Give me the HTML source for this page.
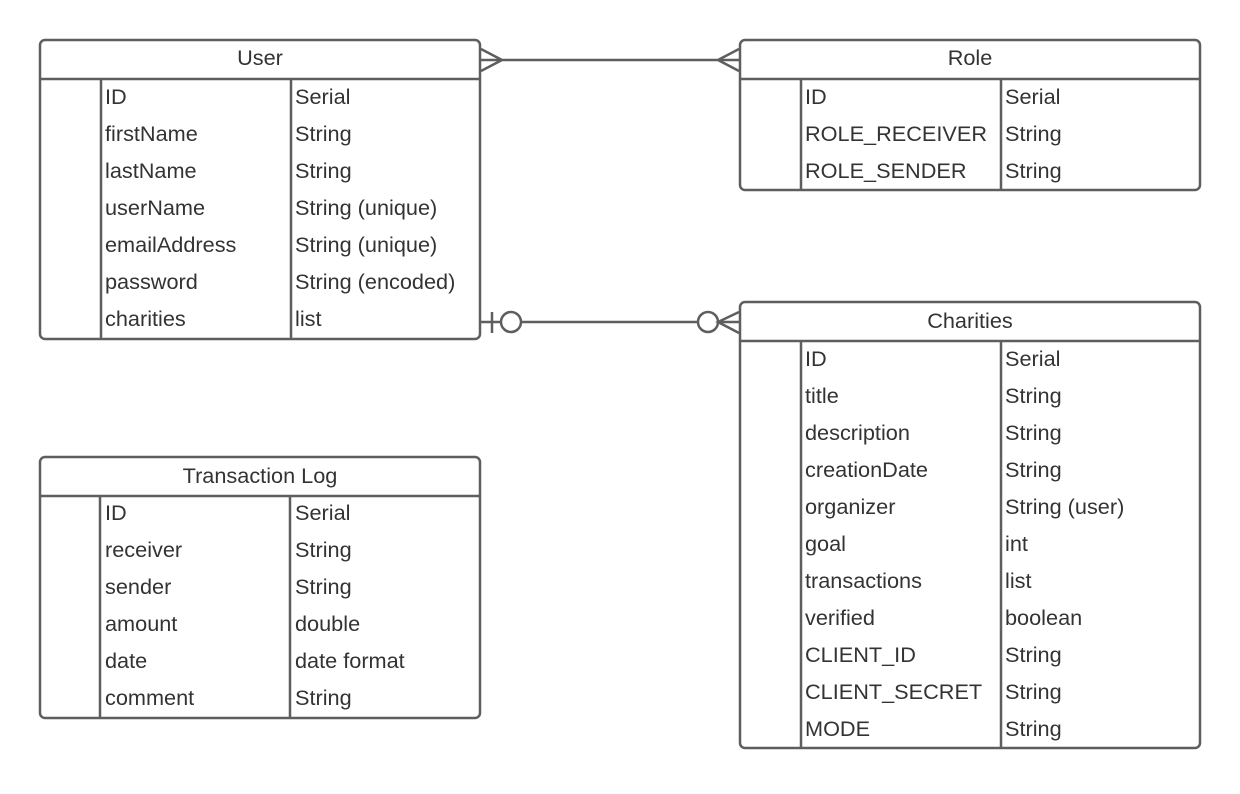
<!DOCTYPE html>
<html><head><meta charset="utf-8"><style>
html,body{margin:0;padding:0;background:#fff;}
svg text{font-family:"Liberation Sans",Arial,sans-serif;font-size:21.7px;fill:#333;}
</style></head><body>
<svg width="1240" height="789" viewBox="0 0 1240 789" xmlns="http://www.w3.org/2000/svg">
<g fill="none" stroke="#5e5e5e" stroke-width="2.5">
<rect x="40" y="40" width="440" height="299" rx="5"/>
<line x1="40" y1="79" x2="480" y2="79"/>
<line x1="101" y1="79" x2="101" y2="339"/>
<line x1="291" y1="79" x2="291" y2="339"/>
<rect x="740" y="40" width="460" height="150" rx="5"/>
<line x1="740" y1="79" x2="1200" y2="79"/>
<line x1="801" y1="79" x2="801" y2="190"/>
<line x1="1001" y1="79" x2="1001" y2="190"/>
<rect x="740" y="302" width="460" height="446" rx="5"/>
<line x1="740" y1="341" x2="1200" y2="341"/>
<line x1="801" y1="341" x2="801" y2="748"/>
<line x1="1001" y1="341" x2="1001" y2="748"/>
<rect x="40" y="457" width="440" height="261" rx="5"/>
<line x1="40" y1="496" x2="480" y2="496"/>
<line x1="100" y1="496" x2="100" y2="718"/>
<line x1="290" y1="496" x2="290" y2="718"/>
<line x1="481" y1="60" x2="739" y2="60"/>
<polyline points="481,49 502,60 481,71"/>
<polyline points="739,49 718,60 739,71"/>
<line x1="481" y1="322" x2="501" y2="322"/>
<line x1="492" y1="312" x2="492" y2="333"/>
<circle cx="511" cy="322" r="10"/>
<line x1="521" y1="322" x2="698" y2="322"/>
<circle cx="708" cy="322" r="10"/>
<polyline points="739,312 718,322 739,333"/>
<line x1="718" y1="322" x2="739" y2="322"/>
</g>
<g text-anchor="middle">
<text x="260" y="65">User</text>
<text x="970" y="65">Role</text>
<text x="970" y="328">Charities</text>
<text x="260" y="483">Transaction Log</text>
</g>
<g>
<text x="105" y="104">ID</text><text x="295" y="104">Serial</text>
<text x="105" y="141">firstName</text><text x="295" y="141">String</text>
<text x="105" y="178">lastName</text><text x="295" y="178">String</text>
<text x="105" y="215">userName</text><text x="295" y="215">String (unique)</text>
<text x="105" y="252">emailAddress</text><text x="295" y="252">String (unique)</text>
<text x="105" y="289">password</text><text x="295" y="289">String (encoded)</text>
<text x="105" y="326">charities</text><text x="295" y="326">list</text>

<text x="805" y="104">ID</text><text x="1005" y="104">Serial</text>
<text x="805" y="141">ROLE_RECEIVER</text><text x="1005" y="141">String</text>
<text x="805" y="178">ROLE_SENDER</text><text x="1005" y="178">String</text>

<text x="805" y="366">ID</text><text x="1005" y="366">Serial</text>
<text x="805" y="403">title</text><text x="1005" y="403">String</text>
<text x="805" y="440">description</text><text x="1005" y="440">String</text>
<text x="805" y="477">creationDate</text><text x="1005" y="477">String</text>
<text x="805" y="514">organizer</text><text x="1005" y="514">String (user)</text>
<text x="805" y="551">goal</text><text x="1005" y="551">int</text>
<text x="805" y="588">transactions</text><text x="1005" y="588">list</text>
<text x="805" y="625">verified</text><text x="1005" y="625">boolean</text>
<text x="805" y="662">CLIENT_ID</text><text x="1005" y="662">String</text>
<text x="805" y="699">CLIENT_SECRET</text><text x="1005" y="699">String</text>
<text x="805" y="736">MODE</text><text x="1005" y="736">String</text>

<text x="105" y="520">ID</text><text x="295" y="520">Serial</text>
<text x="105" y="557">receiver</text><text x="295" y="557">String</text>
<text x="105" y="594">sender</text><text x="295" y="594">String</text>
<text x="105" y="631">amount</text><text x="295" y="631">double</text>
<text x="105" y="668">date</text><text x="295" y="668">date format</text>
<text x="105" y="705">comment</text><text x="295" y="705">String</text>
</g>
</svg>
</body></html>
